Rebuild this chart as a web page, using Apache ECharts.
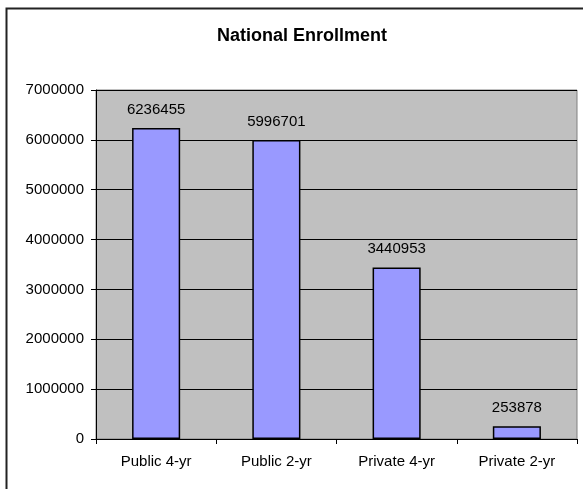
<!DOCTYPE html>
<html>
<head>
<meta charset="utf-8">
<script src="https://cdn.jsdelivr.net/npm/echarts@6/dist/echarts.min.js"></script>
<style>
  html, body { margin: 0; padding: 0; background: #ffffff; }
  #chart { width: 583px; height: 489px; }
</style>
</head>
<body>
<div id="chart"></div>
<script>
// Enrollment by institution type
const categories = ['Public 4-yr', 'Public 2-yr', 'Private 4-yr', 'Private 2-yr'];
const enrollment = [6236455, 5996701, 3440953, 253878];
const yTicks = [0, 1000000, 2000000, 3000000, 4000000, 5000000, 6000000, 7000000];

const FONT = '"Liberation Sans", Arial, sans-serif';
const chart = echarts.init(document.getElementById('chart'), null, { renderer: 'canvas' });

chart.setOption({
  animation: false,
  backgroundColor: '#ffffff',
  title: {
    text: 'National Enrollment',
    left: 297,
    top: 22,
    textAlign: 'center',
    textStyle: { fontFamily: FONT, fontSize: 18, fontWeight: 'bold', color: '#000' }
  },
  graphic: [
    {
      type: 'polyline',
      shape: { points: [[6.5, 489], [6.5, 8.5], [583, 8.5]] },
      style: { stroke: '#222', lineWidth: 2, fill: null },
      silent: true
    }
  ],
  grid: {
    left: 96,
    top: 90,
    right: 6,
    bottom: 50,
    show: true,
    backgroundColor: '#C0C0C0',
    borderColor: '#808080',
    borderWidth: 1
  },
  xAxis: {
    type: 'category',
    data: categories,
    axisLine: { show: true, lineStyle: { color: '#000', width: 1 } },
    axisTick: { show: true, alignWithLabel: false, length: 5, lineStyle: { color: '#000' } },
    axisLabel: { fontFamily: FONT, fontSize: 15, color: '#000', margin: 15 },
    splitLine: { show: false }
  },
  yAxis: {
    type: 'value',
    min: yTicks[0],
    max: yTicks[yTicks.length - 1],
    interval: yTicks[1] - yTicks[0],
    axisLine: { show: true, lineStyle: { color: '#000', width: 1 } },
    axisTick: { show: true, length: 5, lineStyle: { color: '#000' } },
    axisLabel: {
      fontFamily: FONT,
      fontSize: 15,
      color: '#000',
      margin: 12,
      formatter: (v) => String(v)
    },
    splitLine: { show: true, lineStyle: { color: '#000', width: 1 } }
  },
  series: [
    {
      type: 'bar',
      data: enrollment,
      barWidth: '40%',
      itemStyle: { color: '#9999FF', borderColor: '#000', borderWidth: 1.5 },
      label: {
        show: true,
        position: 'top',
        distance: 11,
        fontFamily: FONT,
        fontSize: 15,
        color: '#000'
      }
    }
  ]
});
</script>
</body>
</html>
